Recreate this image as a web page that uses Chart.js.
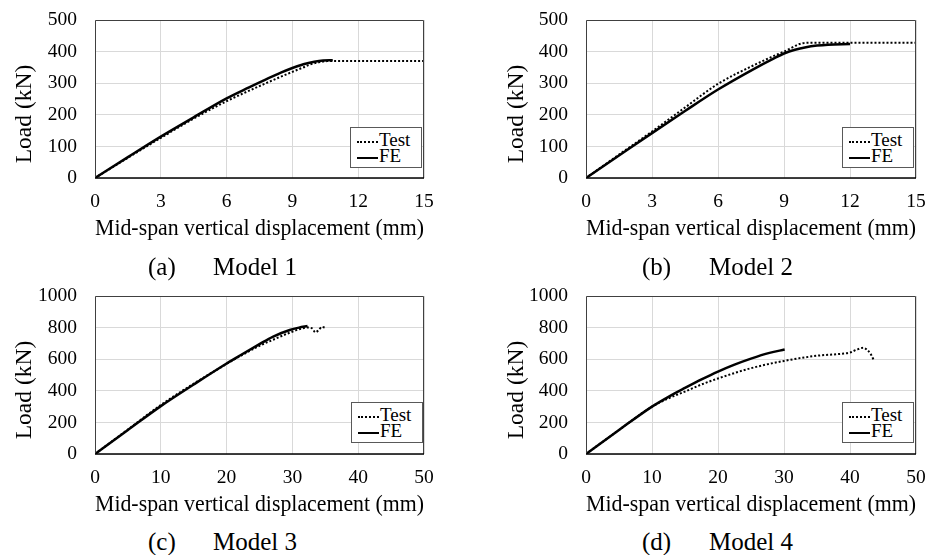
<!DOCTYPE html>
<html>
<head>
<meta charset="utf-8">
<script src="https://cdn.jsdelivr.net/npm/chart.js@4.4.0/dist/chart.umd.min.js"></script>
<style>
  body { margin: 0; background: #fff; width: 927px; height: 555px; position: relative; overflow: hidden;
         font-family: 'Liberation Serif', 'Times New Roman', serif; color: #000; }
  canvas { position: absolute; }
  .ytitle { position: absolute; font-size: 23.5px; white-space: nowrap; transform: translate(-50%, -50%) rotate(-90deg); }
  .cap { position: absolute; font-size: 25px; white-space: nowrap; transform: translateY(-50%); }
  .legend { position: absolute; border: 1px solid #595959; box-sizing: border-box; font-size: 19px;
            background: #fff; padding: 4px 0 0 6px; }
  .row { height: 16px; line-height: 16px; white-space: nowrap; }
  .sw { display: inline-block; width: 21px; vertical-align: middle; margin-right: 1px; }
</style>
</head>
<body>
<canvas id="c1" width="440" height="245" style="left:0px;top:0px;width:440px;height:245px"></canvas>
<canvas id="c2" width="464" height="245" style="left:463px;top:0px;width:464px;height:245px"></canvas>
<canvas id="c3" width="440" height="245" style="left:0px;top:276px;width:440px;height:245px"></canvas>
<canvas id="c4" width="464" height="245" style="left:463px;top:276px;width:464px;height:245px"></canvas>

<div class="ytitle" style="left:23px;top:114px">Load (kN)</div>
<div class="ytitle" style="left:515px;top:114px">Load (kN)</div>
<div class="ytitle" style="left:23px;top:390px">Load (kN)</div>
<div class="ytitle" style="left:515px;top:390px">Load (kN)</div>

<div class="cap" style="left:148px;top:267px">(a)</div><div class="cap" style="left:213px;top:267px">Model 1</div>
<div class="cap" style="left:642px;top:267px">(b)</div><div class="cap" style="left:709px;top:267px">Model 2</div>
<div class="cap" style="left:148px;top:542px">(c)</div><div class="cap" style="left:213px;top:542px">Model 3</div>
<div class="cap" style="left:642px;top:542px">(d)</div><div class="cap" style="left:709px;top:542px">Model 4</div>

<script>
// textos
const xTitle = 'Mid-span vertical displacement (mm)';
const seriesNames = ['Test', 'FE'];

// Model 1  [deslocamento (mm), carga (kN)]
const m1Test = [[0,0],[1.5,64],[3,127],[4.5,188],[6,243],[7.7,297],[9,336],[9.5,350],[9.8,359],[10.2,366],[10.6,370],[15,370]];
const m1FE = [[0,0],[1.5,66],[3,131],[4.5,192],[6,252],[7,286],[7.7,309],[8.5,334],[9,348],[9.5,360],[10,368],[10.4,372],[10.84,373]];

// Model 2
const m2Test = [[0,0],[1.5,74],[3,147],[4.5,223],[6,298],[7.6,356],[8.5,385],[9,400],[9.4,414],[9.7,424],[10.2,428],[15,428]];
const m2FE = [[0,0],[1.5,71],[3,142],[4.5,212],[6,280],[7.6,344],[8.5,377],[9,394],[9.5,406],[10,414],[10.5,419],[11,422],[12,424]];

// Model 3
const m3Test = [[0,0],[5,155],[10,310],[15,445],[20,570],[22,618],[25,685],[27,722],[29.6,768],[31.5,795],[32.3,800],[33,795],[33.5,770],[34,785],[34.5,805],[34.9,800]];
const m3FE = [[0,0],[5,152],[10,303],[15,440],[20,573],[22.1,625],[25,695],[27,742],[29.6,785],[31,800],[32.3,810]];

// Model 4
const m4Test = [[0,0],[5,152],[10,300],[12.5,352],[15,395],[17.5,440],[20,478],[25,543],[30,589],[35,622],[38,632],[40,642],[41,660],[42,672],[42.7,655],[43.2,628],[43.6,594]];
const m4FE = [[0,0],[5,152],[10,300],[12.5,362],[15,418],[17.5,472],[20,522],[22.5,566],[25,604],[27.8,640],[30.1,661]];

// eixos
const xMaxTop = 15, xStepTop = 3, yMaxTop = 500, yStepTop = 100;
const xMaxBottom = 50, xStepBottom = 10, yMaxBottom = 1000, yStepBottom = 200;

Chart.defaults.font.family = "'Liberation Serif', 'Times New Roman', serif";
Chart.defaults.color = '#000';

// moldura da area do grafico
const framePlugin = {
    id: 'frame',
    afterDatasetsDraw(chart) {
        const ctx = chart.ctx, a = chart.chartArea;
        ctx.save();
        ctx.strokeStyle = '#404040';
        ctx.lineWidth = 1;
        ctx.beginPath();
        ctx.moveTo(a.left + 0.5, a.bottom);
        ctx.lineTo(a.left + 0.5, a.top + 0.5);
        ctx.lineTo(a.right - 0.5, a.top + 0.5);
        ctx.lineTo(a.right - 0.5, a.bottom);
        ctx.stroke();
        ctx.strokeStyle = '#000';
        ctx.lineWidth = 1.5;
        ctx.beginPath();
        ctx.moveTo(a.left, a.bottom);
        ctx.lineTo(a.right, a.bottom);
        ctx.stroke();
        ctx.restore();
    }
};

function toPoints(arr) {
    return arr.map(p => ({ x: p[0], y: p[1] }));
}

function createChart(canvasID, test, fe, xMax, xStep, yMax, yStep, yAxisWidth, rightPad) {
    return new Chart(document.getElementById(canvasID), {
        type: 'line',
        data: {
            datasets: [{
                label: seriesNames[0],
                data: toPoints(test),
                borderColor: '#000',
                borderWidth: 2,
                borderDash: [2, 2],
                pointRadius: 0,
                cubicInterpolationMode: 'monotone',
                order: 1
            }, {
                label: seriesNames[1],
                data: toPoints(fe),
                borderColor: '#000',
                borderWidth: 2.5,
                pointRadius: 0,
                cubicInterpolationMode: 'monotone',
                order: 0
            }]
        },
        options: {
            responsive: false,
            animation: false,
            layout: { padding: { top: 20, right: rightPad, left: 0, bottom: 0 } },
            plugins: { legend: { display: false }, tooltip: { enabled: false } },
            scales: {
                x: {
                    type: 'linear', min: 0, max: xMax,
                    ticks: { stepSize: xStep, padding: 12, font: { size: 19.5 }, callback: v => String(v) },
                    grid: { color: '#d9d9d9', drawTicks: false },
                    border: { display: false },
                    title: { display: true, text: xTitle, font: { size: 23.7 }, padding: { top: 0, bottom: 2 } },
                    // tamanho fixo, sem folga extra das etiquetas
                    afterFit: s => { s.height = 67; s.paddingLeft = 0; s.paddingRight = 0; }
                },
                y: {
                    min: 0, max: yMax,
                    ticks: { stepSize: yStep, padding: 18, font: { size: 19.5 }, callback: v => String(v) },
                    grid: { color: '#d9d9d9', drawTicks: false },
                    border: { display: false },
                    afterFit: s => { s.width = yAxisWidth; s.paddingTop = 0; s.paddingBottom = 0; }
                }
            }
        },
        plugins: [framePlugin]
    });
}

// legenda com caixa
function addLegend(chart, left, top) {
    const box = document.createElement('div');
    box.className = 'legend';
    box.style.left = left + 'px';
    box.style.top = top + 'px';
    box.style.width = '72px';
    box.style.height = '41px';
    chart.data.datasets.forEach(ds => {
        const row = document.createElement('div');
        row.className = 'row';
        const sw = document.createElement('span');
        sw.className = 'sw';
        sw.style.borderTop = ds.borderDash ? '2px dotted #000' : '2.5px solid #000';
        row.appendChild(sw);
        row.appendChild(document.createTextNode(ds.label));
        box.appendChild(row);
    });
    document.body.appendChild(box);
}

const ch1 = createChart('c1', m1Test, m1FE, xMaxTop, xStepTop, yMaxTop, yStepTop, 95, 16);
const ch2 = createChart('c2', m2Test, m2FE, xMaxTop, xStepTop, yMaxTop, yStepTop, 123, 11);
const ch3 = createChart('c3', m3Test, m3FE, xMaxBottom, xStepBottom, yMaxBottom, yStepBottom, 95, 16);
const ch4 = createChart('c4', m4Test, m4FE, xMaxBottom, xStepBottom, yMaxBottom, yStepBottom, 123, 11);

addLegend(ch1, 350, 127);
addLegend(ch2, 842, 127);
addLegend(ch3, 351, 402);
addLegend(ch4, 842, 402);
</script>
</body>
</html>
